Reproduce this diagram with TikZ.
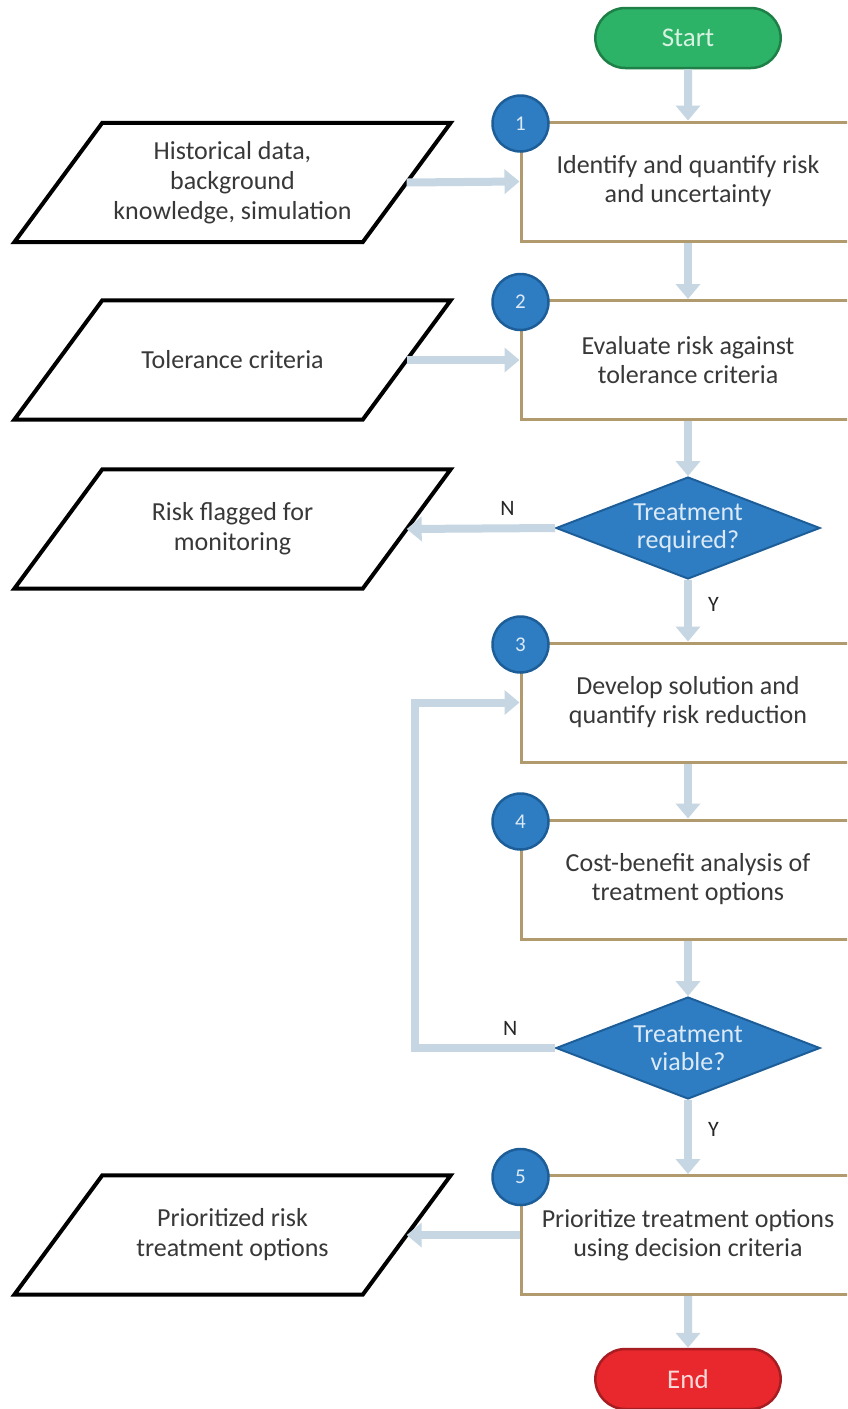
\documentclass[tikz,border=0pt]{standalone}
\usepackage{fontspec}
\setmainfont{Carlito}
\usetikzlibrary{arrows.meta,shapes.geometric,shapes.misc}
\definecolor{conncol}{HTML}{C6D6E2}
\definecolor{boxline}{HTML}{B09A6E}
\definecolor{txt}{HTML}{383838}
\definecolor{bluefill}{HTML}{2E7DC2}
\definecolor{blueline}{HTML}{1D5E98}
\definecolor{bluetxt}{HTML}{DCEAF7}
\definecolor{greenfill}{HTML}{2DB368}
\definecolor{greenline}{HTML}{1F8047}
\definecolor{greentxt}{HTML}{D8F2E2}
\definecolor{redfill}{HTML}{E8282D}
\definecolor{redline}{HTML}{A61D22}
\definecolor{redtxt}{HTML}{FBD9D9}
\tikzset{
  stepbox/.style={rectangle, draw=boxline, line width=3pt, fill=white,
    minimum width=334pt, minimum height=119pt, align=center, text=txt,
    font=\fontsize{26}{29}\selectfont},
  iobox/.style={rectangle, draw=none, minimum width=348pt, minimum height=119pt,
    align=center, text=txt, font=\fontsize{26}{30}\selectfont},
  ioline/.style={draw=black, line width=4pt, line join=miter},
  numdot/.style={circle, fill=bluefill, draw=blueline, line width=2.5pt,
    minimum size=56pt, inner sep=0pt, text=bluetxt, font=\fontsize{21}{24}\selectfont},
  decide/.style={diamond, fill=bluefill, draw=blueline, line width=2pt,
    minimum width=264pt, minimum height=102pt, inner sep=0pt, aspect=2.6,
    align=center, text=bluetxt, font=\fontsize{26}{28}\selectfont},
  term/.style={rounded rectangle, minimum width=192pt, minimum height=60pt,
    line width=2.5pt, font=\fontsize{27}{30}\selectfont},
  conn/.style={draw=conncol, line width=8pt,
    -{Triangle[width=24pt,length=15pt]}},
  yn/.style={text=black!85, font=\fontsize{22}{24}\selectfont, inner sep=0pt}
}
\begin{document}
\begin{tikzpicture}[x=1pt,y=-1pt]
\fill[white] (0,0) rectangle (847,1409);
\clip (0,0) rectangle (847,1409);

% terminals
\node[term, fill=greenfill, draw=greenline, text=greentxt] (start) at (688,38) {Start};
\node[term, fill=redfill, draw=redline, text=redtxt] (end) at (688,1379) {End};

% process boxes
\node[stepbox] (b1) at (688,181.5) {Identify and quantify risk\\and uncertainty};
\node[stepbox] (b2) at (688,360) {Evaluate risk against\\tolerance criteria};
\node[stepbox] (b3) at (688,702.5) {Develop solution and\\quantify risk reduction};
\node[stepbox] (b4) at (688,879.5) {Cost-benefit analysis of\\treatment options};
\node[stepbox] (b5) at (688,1235) {Prioritize treatment options\\using decision criteria};

% decisions
\node[decide] (d1) at (688,528) {Treatment\\required?};
\node[decide] (d2) at (688,1048) {Treatment\\viable?};

% input/output
\node[iobox] (p1) at (232.5,182.5) {Historical data,\\background\\knowledge, simulation};
\node[iobox] (p2) at (232.5,360) {Tolerance criteria};
\node[iobox] (p3) at (232.5,529) {Risk flagged for\\monitoring};
\node[iobox] (p4) at (232.5,1235) {Prioritized risk\\treatment options};
\foreach \n in {p1,p2,p3,p4}
  \draw[ioline] ([xshift=44pt]\n.north west) -- ([xshift=44pt]\n.north east)
    -- ([xshift=-44pt]\n.south east) -- ([xshift=-44pt]\n.south west) -- cycle;

% number circles
\node[numdot] (n1) at ([xshift=1pt,yshift=-3pt]b1.north west) {1};
\node[numdot] (n2) at ([xshift=1pt,yshift=-3pt]b2.north west) {2};
\node[numdot] (n3) at ([xshift=1pt,yshift=-3pt]b3.north west) {3};
\node[numdot] (n4) at ([xshift=1pt,yshift=-3pt]b4.north west) {4};
\node[numdot] (n5) at ([xshift=1pt,yshift=-3pt]b5.north west) {5};

% connectors
\coordinate (lp) at (415,0);
\draw[conn] (start) -- (b1);
\draw[conn] (b1) -- (b2);
\draw[conn] (b2) -- (d1);
\draw[conn] (d1) -- node[yn, pos=0.4, right=16pt] {Y} (b3);
\draw[conn] (b3) -- (b4);
\draw[conn] (b4) -- (d2);
\draw[conn] (d2) -- node[yn, pos=0.4, right=16pt] {Y} (b5);
\draw[conn] (b5) -- (end);
\draw[conn] (p1.east) -- (b1.west);
\draw[conn] (p2.east) -- (b2.west);
\draw[conn] (d1.west) -- node[yn, pos=0.32, above=9pt] {N} (p3.east);
\draw[conn] (b5.west) -- (p4.east);
\draw[conn] (d2.west) -- node[yn, pos=0.32, above=9pt] {N} (d2.west -| lp) -- (b3.west -| lp) -- (b3.west);
\end{tikzpicture}
\end{document}
